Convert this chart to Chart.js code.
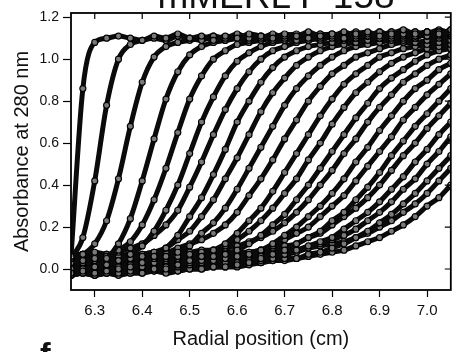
<!DOCTYPE html>
<html>
<head>
<meta charset="utf-8">
<script src="https://cdn.jsdelivr.net/npm/chart.js@4.4.1/dist/chart.umd.min.js"></script>
<style>
  html, body { margin: 0; padding: 0; background: #fff; }
  #wrap { position: relative; width: 456px; height: 352px; overflow: hidden; }
  #c { position: absolute; left: 0; top: 0; }
  #title { position: absolute; left: 76px; width: 400px; top: -23px; text-align: center;
           font: 37px/37px 'Liberation Sans', Arial, sans-serif; color: #111; white-space: nowrap; }
  #panel { position: absolute; left: 40px; top: 338px; font: bold 32px/32px 'Liberation Sans', Arial, sans-serif; color: #111; }
</style>
</head>
<body>
<div id="wrap">
  <canvas id="c" width="456" height="352"></canvas>
  <div id="title">mMERL F 158</div>
  <div id="panel">f</div>
</div>
<script>
// Radial positions (cm) shared by every scan
const radius = [6.250, 6.275, 6.300, 6.325, 6.350, 6.375, 6.400, 6.425, 6.450, 6.475, 6.500,
                6.525, 6.550, 6.575, 6.600, 6.625, 6.650, 6.675, 6.700, 6.725, 6.750, 6.775,
                6.800, 6.825, 6.850, 6.875, 6.900, 6.925, 6.950, 6.975, 7.000, 7.025, 7.050];

// Absorbance at 280 nm for each successive velocity scan
const scan1  = [0.06,0.86,1.08,1.10,1.11,1.10,1.09,1.11,1.10,1.12,1.10,1.11,1.09,1.11,1.10,1.12,1.11,1.10,1.12,1.11,1.13,1.11,1.12,1.10,1.12,1.13,1.11,1.12,1.14,1.12,1.13,1.12,1.14];
const scan2  = [0.05,0.15,0.42,0.78,1.00,1.07,1.09,1.10,1.09,1.11,1.10,1.09,1.11,1.10,1.12,1.10,1.11,1.09,1.11,1.12,1.10,1.12,1.11,1.13,1.11,1.12,1.10,1.13,1.12,1.11,1.13,1.12,1.13];
const scan3  = [0.05,0.07,0.12,0.23,0.43,0.68,0.89,1.01,1.06,1.08,1.09,1.10,1.11,1.09,1.10,1.11,1.10,1.12,1.10,1.11,1.09,1.11,1.12,1.10,1.12,1.11,1.13,1.11,1.12,1.13,1.11,1.13,1.12];
const scan4  = [-0.02,-0.01,0.01,0.05,0.12,0.24,0.42,0.62,0.81,0.94,1.02,1.06,1.08,1.09,1.10,1.09,1.11,1.10,1.09,1.11,1.10,1.12,1.10,1.11,1.13,1.11,1.12,1.10,1.12,1.11,1.13,1.12,1.14];
const scan5  = [0.03,0.04,0.05,0.06,0.09,0.13,0.21,0.33,0.48,0.65,0.81,0.92,1.00,1.04,1.07,1.08,1.09,1.10,1.11,1.09,1.11,1.10,1.12,1.11,1.10,1.12,1.11,1.13,1.11,1.12,1.11,1.13,1.12];
const scan6  = [0.00,0.00,0.01,0.02,0.04,0.07,0.11,0.18,0.28,0.40,0.55,0.70,0.82,0.92,0.99,1.03,1.06,1.08,1.09,1.10,1.11,1.09,1.11,1.10,1.12,1.11,1.10,1.12,1.13,1.11,1.12,1.14,1.12];
const scan7  = [0.07,0.07,0.08,0.07,0.08,0.10,0.12,0.16,0.21,0.28,0.39,0.51,0.64,0.76,0.86,0.94,1.00,1.04,1.06,1.08,1.09,1.10,1.11,1.10,1.12,1.11,1.13,1.11,1.12,1.10,1.13,1.12,1.13];
const scan8  = [-0.03,-0.02,-0.02,-0.01,0.00,0.01,0.03,0.06,0.10,0.16,0.25,0.34,0.45,0.57,0.70,0.80,0.89,0.96,1.01,1.04,1.06,1.07,1.08,1.09,1.10,1.11,1.10,1.12,1.11,1.13,1.11,1.12,1.14];
const scan9  = [0.03,0.03,0.04,0.04,0.04,0.05,0.06,0.08,0.10,0.14,0.18,0.25,0.33,0.43,0.53,0.64,0.75,0.84,0.91,0.97,1.01,1.04,1.06,1.07,1.08,1.09,1.10,1.11,1.10,1.12,1.11,1.13,1.12];
const scan10 = [0.01,0.00,0.01,0.02,0.01,0.02,0.03,0.05,0.06,0.08,0.11,0.17,0.22,0.29,0.38,0.48,0.58,0.68,0.78,0.86,0.92,0.97,1.01,1.04,1.06,1.07,1.08,1.09,1.09,1.10,1.12,1.11,1.13];
const scan11 = [0.06,0.07,0.06,0.07,0.06,0.07,0.07,0.08,0.08,0.10,0.12,0.14,0.17,0.21,0.27,0.35,0.43,0.52,0.62,0.71,0.80,0.87,0.93,0.97,1.01,1.03,1.05,1.07,1.08,1.08,1.09,1.10,1.11];
const scan12 = [-0.03,-0.02,-0.03,-0.02,-0.02,-0.01,-0.02,0.00,0.00,0.02,0.04,0.06,0.09,0.12,0.17,0.23,0.29,0.37,0.46,0.55,0.64,0.73,0.81,0.88,0.93,0.97,1.01,1.03,1.05,1.06,1.07,1.08,1.09];
const scan13 = [0.04,0.05,0.04,0.04,0.05,0.04,0.05,0.05,0.06,0.06,0.07,0.08,0.09,0.11,0.14,0.18,0.23,0.29,0.36,0.43,0.52,0.60,0.69,0.77,0.84,0.89,0.94,0.98,1.01,1.03,1.05,1.06,1.07];
const scan14 = [-0.01,0.00,-0.01,0.00,-0.01,0.00,0.01,0.00,0.01,0.02,0.03,0.04,0.06,0.07,0.09,0.12,0.16,0.21,0.26,0.33,0.40,0.48,0.56,0.64,0.72,0.79,0.86,0.91,0.95,0.99,1.02,1.04,1.05];
const scan15 = [0.07,0.06,0.07,0.07,0.06,0.07,0.07,0.08,0.07,0.08,0.08,0.09,0.09,0.10,0.11,0.13,0.15,0.18,0.22,0.27,0.33,0.40,0.47,0.55,0.62,0.70,0.77,0.83,0.89,0.93,0.97,1.00,1.02];
const scan16 = [0.00,-0.01,0.00,0.01,0.00,0.00,0.01,0.00,0.01,0.01,0.02,0.03,0.04,0.05,0.06,0.07,0.09,0.12,0.16,0.20,0.25,0.30,0.36,0.43,0.51,0.58,0.66,0.73,0.80,0.86,0.90,0.95,0.98];
const scan17 = [0.04,0.04,0.05,0.04,0.04,0.05,0.04,0.05,0.05,0.05,0.05,0.06,0.06,0.07,0.07,0.08,0.09,0.11,0.14,0.17,0.20,0.25,0.30,0.35,0.42,0.49,0.56,0.63,0.71,0.77,0.83,0.88,0.93];
const scan18 = [-0.03,-0.02,-0.03,-0.02,-0.03,-0.02,-0.02,-0.01,-0.02,-0.01,0.00,0.00,0.01,0.01,0.02,0.03,0.05,0.07,0.09,0.12,0.15,0.18,0.23,0.27,0.33,0.39,0.46,0.54,0.61,0.68,0.74,0.80,0.86];
const scan19 = [0.06,0.06,0.05,0.06,0.06,0.07,0.06,0.06,0.07,0.06,0.07,0.07,0.07,0.08,0.08,0.08,0.09,0.10,0.11,0.12,0.15,0.17,0.21,0.25,0.29,0.34,0.40,0.47,0.54,0.60,0.67,0.73,0.79];
const scan20 = [0.00,0.01,0.00,0.00,0.01,0.00,-0.01,0.00,0.01,0.01,0.01,0.02,0.02,0.03,0.03,0.04,0.04,0.05,0.07,0.09,0.11,0.13,0.15,0.19,0.23,0.27,0.32,0.38,0.44,0.51,0.57,0.64,0.70];
const scan21 = [0.03,0.02,0.03,0.04,0.03,0.03,0.02,0.03,0.04,0.03,0.04,0.04,0.04,0.04,0.05,0.05,0.06,0.06,0.07,0.08,0.10,0.12,0.14,0.16,0.19,0.23,0.27,0.32,0.38,0.43,0.50,0.56,0.63];
const scan22 = [-0.02,-0.01,-0.02,-0.02,-0.01,-0.02,-0.01,-0.01,0.00,-0.01,0.00,0.00,0.01,0.01,0.01,0.02,0.03,0.04,0.05,0.05,0.07,0.08,0.10,0.12,0.15,0.18,0.22,0.26,0.31,0.36,0.42,0.48,0.54];
const scan23 = [0.06,0.07,0.06,0.06,0.07,0.06,0.06,0.07,0.06,0.07,0.07,0.06,0.07,0.07,0.07,0.07,0.08,0.08,0.09,0.09,0.10,0.11,0.12,0.13,0.15,0.17,0.20,0.23,0.27,0.31,0.36,0.42,0.48];
const scan24 = [0.01,0.01,0.02,0.01,0.01,0.02,0.01,0.01,0.02,0.01,0.02,0.01,0.02,0.02,0.02,0.03,0.03,0.04,0.04,0.05,0.06,0.07,0.08,0.09,0.11,0.13,0.15,0.18,0.21,0.25,0.30,0.34,0.40];

const scans = [scan1, scan2, scan3, scan4, scan5, scan6, scan7, scan8, scan9, scan10, scan11, scan12,
               scan13, scan14, scan15, scan16, scan17, scan18, scan19, scan20, scan21, scan22, scan23, scan24];

// Axis tick values
const xTicks = [6.3, 6.4, 6.5, 6.6, 6.7, 6.8, 6.9, 7.0];
const yTicks = [0.0, 0.2, 0.4, 0.6, 0.8, 1.0, 1.2];

const FONT = "'Liberation Sans', Arial, sans-serif";

// Each scan: open-circle data points over a heavy fitted trace
const datasets = scans.map((scan, k) => ({
  label: 'scan ' + (k + 1),
  data: radius.map((r, i) => ({ x: r, y: scan[i] })),
  borderColor: '#0b0b0b',
  borderWidth: 5,
  cubicInterpolationMode: 'monotone',
  pointRadius: 3,
  pointBorderWidth: 1.2,
  pointBorderColor: '#000',
  pointBackgroundColor: 'rgba(255,255,255,0.45)',
  fill: false
}));

// Closed frame with inward ticks on the top and right edges
const framePlugin = {
  id: 'frame',
  afterDatasetsDraw(chart) {
    const { ctx, chartArea: a, scales: { x, y } } = chart;
    ctx.save();
    ctx.strokeStyle = '#000';
    ctx.lineWidth = 1.8;
    ctx.strokeRect(a.left, a.top, a.right - a.left, a.bottom - a.top);
    ctx.lineWidth = 1.2;
    ctx.beginPath();
    xTicks.forEach(v => { const p = x.getPixelForValue(v); ctx.moveTo(p, a.top); ctx.lineTo(p, a.top + 6); });
    yTicks.forEach(v => { const p = y.getPixelForValue(v); ctx.moveTo(a.right, p); ctx.lineTo(a.right - 6, p); });
    ctx.stroke();
    ctx.restore();
  }
};

new Chart(document.getElementById('c'), {
  type: 'line',
  data: { datasets },
  plugins: [framePlugin],
  options: {
    responsive: false,
    animation: false,
    events: [],
    layout: { padding: { left: 0, right: 4, top: 13, bottom: 0 } },
    plugins: { legend: { display: false }, tooltip: { enabled: false } },
    scales: {
      x: {
        type: 'linear', min: 6.25, max: 7.05,
        afterBuildTicks: s => { s.ticks = xTicks.map(v => ({ value: v })); },
        afterFit: s => { s.height = 62; },
        border: { display: false },
        grid: { drawOnChartArea: false, drawTicks: true, tickLength: 7, tickWidth: 1.2, color: '#000' },
        ticks: { color: '#111', padding: 5, maxRotation: 0, font: { family: FONT, size: 15 },
                 callback: v => Number(v).toFixed(1) },
        title: { display: true, text: 'Radial position (cm)', color: '#111',
                 font: { family: FONT, size: 20 }, padding: { top: 0, bottom: 1 } }
      },
      y: {
        type: 'linear', min: -0.1, max: 1.22,
        afterBuildTicks: s => { s.ticks = yTicks.map(v => ({ value: v })); },
        afterFit: s => { s.width = 71; },
        border: { display: false },
        grid: { drawOnChartArea: false, drawTicks: true, tickLength: 8, tickWidth: 1.2, color: '#000' },
        ticks: { color: '#111', padding: 4, font: { family: FONT, size: 14 },
                 callback: v => Number(v).toFixed(1) },
        title: { display: true, text: 'Absorbance at 280 nm', color: '#111',
                 font: { family: FONT, size: 20 }, padding: { top: 10, bottom: 0 } }
      }
    }
  }
});
</script>
</body>
</html>
